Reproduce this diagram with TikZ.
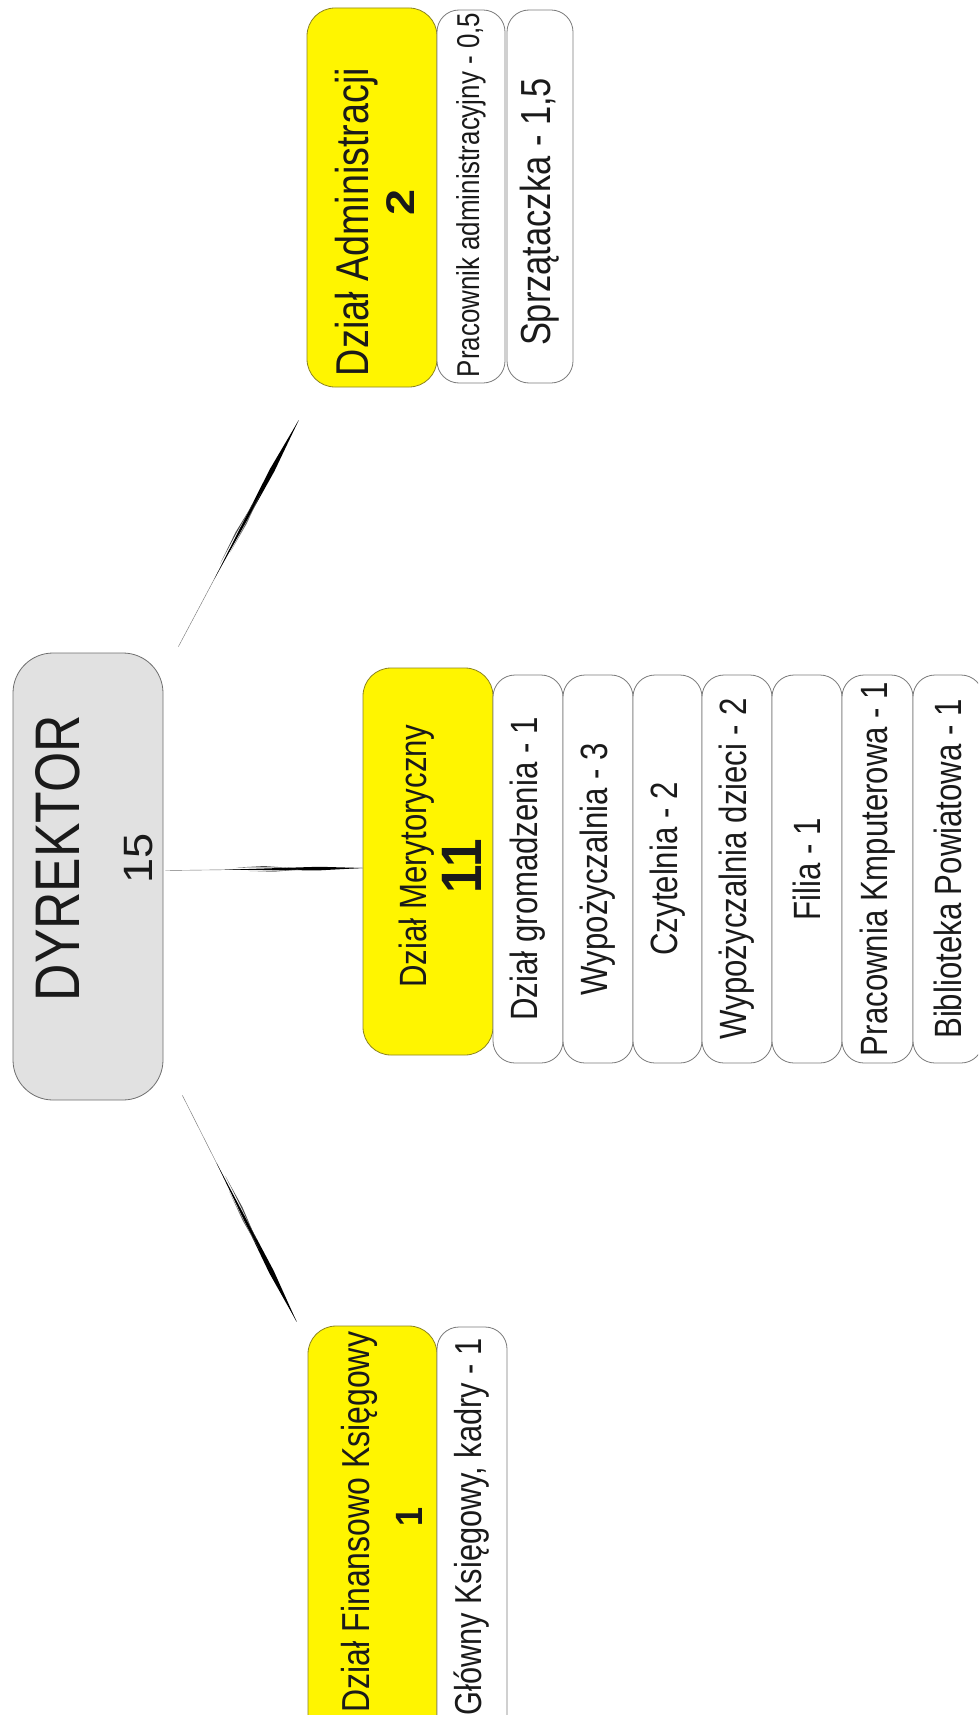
\documentclass[tikz,border=0pt]{standalone}
\usepackage{fontspec}
\usepackage{graphicx}
\usetikzlibrary{calc}
\newfontfamily\cf{Liberation Sans}[FakeStretch=0.82]
\newfontfamily\nf{Liberation Sans}
\newfontfamily\nb{Liberation Sans}[FakeStretch=0.9]
\newcommand\fsz[1]{\fontsize{#1}{#1}\selectfont}
\definecolor{yfill}{HTML}{FFF500}
\definecolor{ybord}{HTML}{8C8420}
\definecolor{wbord}{HTML}{7A7A7A}
\definecolor{dfill}{HTML}{E1E1E1}
\definecolor{dbord}{HTML}{6F6F6F}
\definecolor{ink}{HTML}{1A1A1A}
\newcommand\myconn[3]{%
  \draw[line width=0.4pt, black!55] (#1) -- (#2);
  \fill[black] ($(#1)!0.3!(#2)$) -- ($(#1)!0.78!(#2)!#3!90:(#2)$) -- (#2) -- ($(#1)!0.78!(#2)!#3!-90:(#2)$) -- cycle;
  \fill[black!70] ($(#1)!0.36!(#2)!2pt!90:(#2)$) -- ($(#1)!0.5!(#2)!3.2pt!90:(#2)$) -- ($(#1)!0.64!(#2)!1pt!90:(#2)$) -- ($(#1)!0.5!(#2)!2pt!90:(#2)$) -- cycle;
  \fill[black!60] ($(#1)!0.42!(#2)!1.5pt!-90:(#2)$) -- ($(#1)!0.55!(#2)!2.6pt!-90:(#2)$) -- ($(#1)!0.68!(#2)!0.8pt!-90:(#2)$) -- ($(#1)!0.55!(#2)!1.6pt!-90:(#2)$) -- cycle;
}
\tikzset{
  ybox/.style={draw=ybord, fill=yfill, line width=0.8pt, rounded corners=28pt, inner sep=0pt},
  wbox/.style={draw=wbord, fill=white, line width=0.8pt, rounded corners=22pt, inner sep=0pt},
  dbox/.style={draw=dbord, fill=dfill, line width=0.8pt, rounded corners=40pt, inner sep=0pt},
  txt/.style={rotate=90, inner sep=0pt, text=ink},
  ttl/.style={txt, font={\cf\fsz{#1}}},
  num/.style={txt, font={\nf\fsz{#1}}},
  bnum/.style={txt, font={\nb\bfseries\fsz{#1}}}
}
\begin{document}
\begin{tikzpicture}[x=1pt,y=-1pt]
\useasboundingbox (0,0) rectangle (978,1715);
\clip (0,0) rectangle (978,1715);
\fill[white] (0,0) rectangle (978,1715);

% Director
\node[dbox, minimum width=150pt, minimum height=447pt] (dir) at (88,876.5) {};
\node[ttl=63] (dirT) at (57.5,858) {DYREKTOR};
\node[num=41] (dirN) at (139,858) {\scalebox{1.1}[1]{15}};

% Administracja
\node[ybox, minimum width=130pt, minimum height=379pt] (adm) at (372,197.5) {};
\node[ttl=46] (admT) at (357,222) {Dział Administracji};
\node[bnum=40] (admN) at (401,202) {\scalebox{1.3}[1]{2}};
\node[wbox, minimum width=68pt, minimum height=373pt] (adm1) at (471,196.5) {};
\node[ttl=31.6] (adm1T) at (471,195) {Pracownik administracyjny - 0,5};
\node[wbox, minimum width=66pt, minimum height=373pt] (adm2) at (540,196.5) {};
\node[ttl=42] (adm2T) at (540,212) {Sprzątaczka - 1,5};

% Merytoryczny
\node[ybox, minimum width=130pt, minimum height=387pt] (mer) at (428,861.5) {};
\node[ttl=38] (merT) at (417,856) {Dział Merytoryczny};
\node[bnum=57] (merN) at (462,866.5) {11};
\node[wbox, minimum width=70pt, minimum height=388pt] (m1) at (528,869) {};
\node[ttl=38] at (m1) {Dział gromadzenia - 1};
\node[wbox, minimum width=70pt, minimum height=388pt] (m2) at (598,869) {};
\node[ttl=38] at (m2) {Wypożyczalnia - 3};
\node[wbox, minimum width=69pt, minimum height=388pt] (m3) at (667.5,869) {};
\node[ttl=38] at (m3) {Czytelnia - 2};
\node[wbox, minimum width=70pt, minimum height=388pt] (m4) at (737,869) {};
\node[ttl=38] at (m4) {Wypożyczalnia dzieci - 2};
\node[wbox, minimum width=70pt, minimum height=388pt] (m5) at (807,869) {};
\node[ttl=38] at (m5) {Filia - 1};
\node[wbox, minimum width=71pt, minimum height=388pt] (m6) at (877.5,869) {};
\node[ttl=38] at (m6) {Pracownia Kmputerowa - 1};
\node[wbox, minimum width=70pt, minimum height=388pt] (m7) at (948,869) {};
\node[ttl=38] at (m7) {Biblioteka Powiatowa - 1};

% Finansowo
\node[ybox, minimum width=129pt, minimum height=444pt] (fin) at (372.5,1548) {};
\node[ttl=39] (finT) at (359,1522) {Dział Finansowo Księgowy};
\node[bnum=38] (finN) at (409,1517) {1};
\node[wbox, minimum width=70pt, minimum height=443pt] (fin1) at (472,1548.5) {};
\node[ttl=37.5] (fin1T) at (472,1527) {Główny Księgowy, kadry - 1};

% connectors
\coordinate (c1a) at ($(dir.north east)+(15,-6)$);
\coordinate (c1b) at ($(adm.south west)+(-8,33)$);
\coordinate (c2a) at ($(dir.east)+(2,-6)$);
\coordinate (c2b) at ($(mer.west)+(0,6.5)$);
\coordinate (c3a) at ($(dir.south east)+(19,-5)$);
\coordinate (c3b) at ($(fin.north west)+(-11,-4)$);
\myconn{c1a}{c1b}{2.5pt}
\myconn{c2a}{c2b}{1.8pt}
\myconn{c3a}{c3b}{2.5pt}
\end{tikzpicture}
\end{document}
